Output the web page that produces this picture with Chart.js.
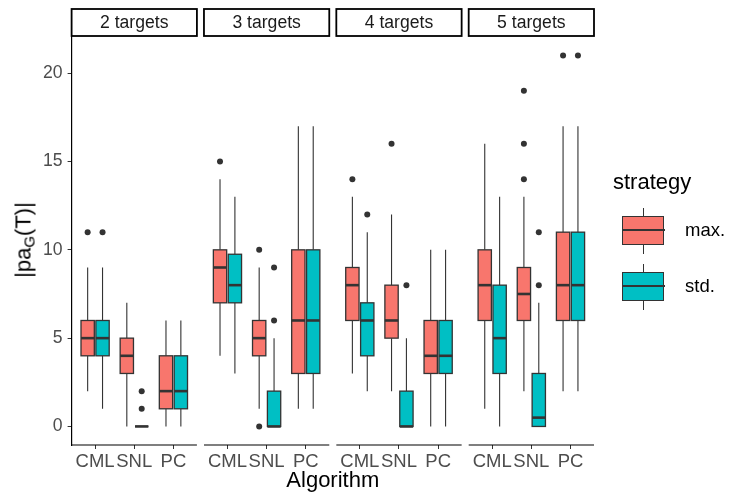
<!DOCTYPE html>
<html>
<head>
<meta charset="utf-8">
<script src="https://cdn.jsdelivr.net/npm/chart.js@4.4.1/dist/chart.umd.min.js"></script>
<style>
  body { margin: 0; background: #fff; font-family: 'Liberation Sans', Arial, sans-serif; }
  #wrap { position: relative; width: 735px; height: 495px; }
  #chart { position: absolute; left: 0; top: 0; }
  #ytitle {
    position: absolute; left: 24px; top: 240px; font-size: 22px; color: #000;
    transform: translate(-50%, -50%) rotate(-90deg); white-space: nowrap;
  }
  #ytitle sub { font-size: 15px; vertical-align: -4px; }
  .lg-title { position: absolute; left: 613px; top: 169px; font-size: 22px; color: #000; }
  .lg-key { position: absolute; left: 622px; width: 43px; height: 46px; }
  .lg-key .wh { position: absolute; left: 21px; top: 0; width: 1px; height: 46px; background: #333; }
  .lg-key .bx { position: absolute; left: 0; top: 8px; width: 40px; height: 27px; border: 1.2px solid #333; }
  .lg-key .md { position: absolute; left: 0; top: 21px; width: 43px; height: 2px; background: #333; }
  .lg-label { position: absolute; left: 685px; font-size: 18.5px; color: #000; }
</style>
</head>
<body>
<div id="wrap">
  <canvas id="chart" width="735" height="495"></canvas>
  <div id="ytitle">|pa<sub>G</sub>(T)|</div>
  <div id="legend"></div>
</div>
<script>
const panels = ['2 targets', '3 targets', '4 targets', '5 targets'];
const algorithms = ['CML', 'SNL', 'PC'];
const strategies = ['max.', 'std.'];
const strategyColors = ['#F8766D', '#00BFC4'];

// [lower whisker, Q1, median, Q3, upper whisker], per panel, per algorithm
const maxStats = [
  [[2, 4, 5, 6, 9], [0, 3, 4, 5, 7], [0, 1, 2, 4, 6]],
  [[4, 7, 9, 10, 14], [1, 4, 5, 6, 9], [1, 3, 6, 10, 17]],
  [[3, 6, 8, 9, 13], [2, 5, 6, 8, 12], [0, 3, 4, 6, 10]],
  [[1, 6, 8, 10, 16], [2, 6, 7.5, 9, 13], [2, 6, 8, 11, 17]]
];
const stdStats = [
  [[1, 4, 5, 6, 9], [0, 0, 0, 0, 0], [0, 1, 2, 4, 6]],
  [[3, 7, 8, 9.75, 13], [0, 0, 0, 2, 5], [1, 3, 6, 10, 17]],
  [[2, 4, 6, 7, 11], [0, 0, 0, 2, 5], [0, 3, 4, 6, 10]],
  [[0, 3, 5, 8, 13], [0, 0, 0.5, 3, 7], [2, 6, 8, 11, 17]]
];
const maxOutliers = [
  [[11], [], []],
  [[15], [10, 0], []],
  [[14], [16], []],
  [[], [14, 16, 19], [21]]
];
const stdOutliers = [
  [[11], [1, 2], []],
  [[], [6, 9], []],
  [[12], [8], []],
  [[], [8, 11], [21]]
];
const yTicks = [0, 5, 10, 15, 20];

// facet layout in x units
const panelWidth = 3.2;
const panelGap = 0.18;
const dodge = 0.19;
const halfBox = 0.17;
const fontFamily = "'Liberation Sans', Arial, sans-serif";

function panelStart(i) { return i * (panelWidth + panelGap); }
function catPos(i, j) { return panelStart(i) + 0.6 + j; }

const tickPositions = [];
panels.forEach((p, i) => algorithms.forEach((a, j) => tickPositions.push(catPos(i, j))));

function outlierPoints(list, side) {
  const pts = [];
  list.forEach((panel, i) => panel.forEach((vals, j) => {
    vals.forEach(v => pts.push({ x: catPos(i, j) + side * dodge, y: v }));
  }));
  return pts;
}

const boxPlugin = {
  id: 'boxes',
  beforeDatasetsDraw(chart) {
    const { ctx, scales: { x, y } } = chart;
    ctx.save();
    [maxStats, stdStats].forEach((stats, k) => {
      const side = k === 0 ? -1 : 1;
      stats.forEach((panel, i) => panel.forEach((s, j) => {
        const cx = x.getPixelForValue(catPos(i, j) + side * dodge);
        const x0 = x.getPixelForValue(catPos(i, j) + side * dodge - halfBox);
        const x1 = x.getPixelForValue(catPos(i, j) + side * dodge + halfBox);
        const [lo, q1, med, q3, hi] = s.map(v => y.getPixelForValue(v));
        // whiskers
        ctx.strokeStyle = '#333333';
        ctx.lineWidth = 1.1;
        ctx.beginPath();
        ctx.moveTo(cx, lo); ctx.lineTo(cx, q1);
        ctx.moveTo(cx, q3); ctx.lineTo(cx, hi);
        ctx.stroke();
        // box
        ctx.fillStyle = strategyColors[k];
        ctx.fillRect(x0, q3, x1 - x0, q1 - q3);
        ctx.lineWidth = 1.3;
        ctx.strokeRect(x0, q3, x1 - x0, q1 - q3);
        // median
        ctx.lineWidth = 2.6;
        ctx.beginPath();
        ctx.moveTo(x0, med); ctx.lineTo(x1, med);
        ctx.stroke();
      }));
    });
    ctx.restore();
  },
  afterDraw(chart) {
    const { ctx, chartArea, scales: { x } } = chart;
    ctx.save();
    panels.forEach((name, i) => {
      const px0 = x.getPixelForValue(panelStart(i));
      const px1 = x.getPixelForValue(panelStart(i) + panelWidth);
      // bottom axis line
      ctx.strokeStyle = '#000';
      ctx.lineWidth = 1.2;
      ctx.beginPath();
      ctx.moveTo(px0, chartArea.bottom); ctx.lineTo(px1, chartArea.bottom);
      ctx.stroke();
      // strip
      const top = chartArea.top - 28;
      const h = 27;
      ctx.fillStyle = '#fff';
      ctx.fillRect(px0, top, px1 - px0, h);
      ctx.lineWidth = 1.8;
      ctx.strokeRect(px0, top, px1 - px0, h);
      ctx.fillStyle = '#1A1A1A';
      ctx.font = '17.6px ' + fontFamily;
      ctx.textAlign = 'center';
      ctx.textBaseline = 'middle';
      ctx.fillText(name, (px0 + px1) / 2, top + h / 2 + 1);
    });
    ctx.restore();
  }
};

new Chart(document.getElementById('chart'), {
  type: 'scatter',
  data: {
    datasets: [
      { label: strategies[0], data: outlierPoints(maxOutliers, -1), backgroundColor: '#333333', borderWidth: 0, pointRadius: 3 },
      { label: strategies[1], data: outlierPoints(stdOutliers, 1), backgroundColor: '#333333', borderWidth: 0, pointRadius: 3 }
    ]
  },
  options: {
    responsive: false,
    animation: false,
    layout: { padding: { left: 31.6, right: 141, top: 37, bottom: 0 } },
    plugins: { legend: { display: false }, tooltip: { enabled: false } },
    scales: {
      x: {
        type: 'linear',
        min: 0,
        max: panelStart(panels.length - 1) + panelWidth,
        afterBuildTicks: scale => { scale.ticks = tickPositions.map(v => ({ value: v })); },
        afterFit: scale => { scale.height = 50; },
        ticks: {
          autoSkip: false, maxRotation: 0, padding: 2,
          color: '#4D4D4D', font: { family: fontFamily, size: 18.5 },
          callback: (v, i) => algorithms[i % algorithms.length]
        },
        grid: { drawOnChartArea: false, drawTicks: true, tickLength: 4, color: '#333333' },
        border: { display: false },
        title: {
          display: true, text: 'Algorithm', color: '#000',
          font: { family: fontFamily, size: 22 }, padding: { top: 0, bottom: 1 }
        }
      },
      y: {
        min: -1.05,
        max: 22.05,
        afterBuildTicks: scale => { scale.ticks = yTicks.map(v => ({ value: v })); },
        afterFit: scale => { scale.width = 40; },
        ticks: { padding: 5, color: '#4D4D4D', font: { family: fontFamily, size: 17.6 } },
        grid: { drawOnChartArea: false, drawTicks: true, tickLength: 4, color: '#333333' },
        border: { display: true, color: '#000', width: 1.2 }
      }
    }
  },
  plugins: [boxPlugin]
});

// legend
const legend = document.getElementById('legend');
legend.innerHTML = '<div class="lg-title">strategy</div>' + strategies.map((s, k) => {
  const top = 208 + k * 56;
  return '<div class="lg-key" style="top:' + top + 'px">' +
    '<div class="wh"></div><div class="bx" style="background:' + strategyColors[k] + '"></div><div class="md"></div></div>' +
    '<div class="lg-label" style="top:' + (top + 11) + 'px">' + s + '</div>';
}).join('');
</script>
</body>
</html>
